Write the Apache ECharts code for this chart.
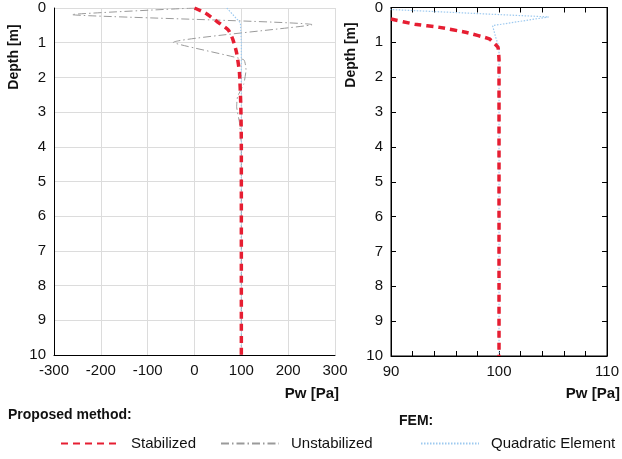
<!DOCTYPE html>
<html>
<head>
<meta charset="utf-8"/>
<title>Pw profile</title>
<script src="https://cdn.jsdelivr.net/npm/echarts@6/dist/echarts.min.js"></script>
<style>
  html, body { margin: 0; padding: 0; background: #fff; }
  #main { width: 622px; height: 459px; }
</style>
</head>
<body>
<div id="main"></div>
<script type="text/javascript">
// left panel (-300..300)
var stabLeftPw    = [0, 23, 48, 72, 82, 90, 96, 99, 100, 100];
var stabLeftDepth = [0, 0.14, 0.39, 0.63, 0.91, 1.3, 1.87, 2.9, 4, 10];
var unstabPw    = [0, -262, 251, -45, 105, 110, 105, 92, 90, 96, 100, 100];
var unstabDepth = [0, 0.19, 0.48, 0.99, 1.49, 1.78, 2.2, 2.55, 2.84, 3.3, 4, 10];
var quadLeftPw    = [69, 98, 100, 100];
var quadLeftDepth = [0, 0.43, 1, 10];
// right panel (90..110)
var stabRightPw    = [90, 92.2, 94.5, 96.9, 99.1, 99.9, 100, 100];
var stabRightDepth = [0.33, 0.48, 0.57, 0.71, 0.9, 1.14, 1.5, 10];
var quadRightPw    = [86, 104.6, 99.4, 99.7, 100, 100];
var quadRightDepth = [0, 0.27, 0.52, 0.86, 1.14, 10];

function pairs(xs, ys) {
  var out = [];
  for (var i = 0; i < xs.length; i++) out.push([xs[i], ys[i]]);
  return out;
}

var FONT = 'Liberation Sans, Arial, sans-serif';
var RED = '#e61e32', GRAY = '#9a9a9a', BLUE = '#9dc9ef';

var redStyle  = { color: RED, width: 3.5, type: [7, 5] };
var grayStyle = { color: GRAY, width: 1, type: [8, 3, 1.5, 3] };
var blueStyle = { color: BLUE, width: 1.2, type: [1.5, 1.5] };

// one legend box per entry so each can sit where the original has it
function legendAt(name, left) {
  return {
    data: [name], left: left, top: 436, padding: 0,
    itemWidth: 58, itemHeight: 14,
    itemStyle: { opacity: 0 },
    textStyle: { fontSize: 15, color: '#111', fontFamily: FONT, padding: [0, 0, 0, 7] }
  };
}

var myChart = echarts.init(document.getElementById('main'));

var option = {
  animation: false,
  textStyle: { fontFamily: FONT },
  grid: [
    { left: 54, right: 287, top: 8, bottom: 104 },
    { left: 391, right: 10, top: 7, bottom: 103, show: true, borderColor: '#000', borderWidth: 1 }
  ],
  xAxis: [
    { gridIndex: 0, type: 'value', min: -300, max: 300, interval: 100,
      axisLine: { show: true, onZero: false, lineStyle: { color: '#000' } },
      axisTick: { show: false },
      splitLine: { show: true, lineStyle: { color: '#dcdcdc' } },
      axisLabel: { margin: 8, fontSize: 15, color: '#111', fontFamily: FONT } },
    { gridIndex: 1, type: 'value', min: 90, max: 110, interval: 10,
      axisLine: { show: true, onZero: false, lineStyle: { color: '#000' } },
      axisTick: { show: true, inside: true, length: 5, lineStyle: { color: '#000' } },
      minorTick: { show: true, splitNumber: 5, length: 5, lineStyle: { color: '#000' } },
      splitLine: { show: false },
      axisLabel: { margin: 8, fontSize: 15, color: '#111', fontFamily: FONT } },
    { gridIndex: 1, type: 'value', min: 90, max: 110, interval: 10, position: 'top',
      axisLine: { show: true, onZero: false, lineStyle: { color: '#000' } },
      axisTick: { show: true, inside: true, length: 5, lineStyle: { color: '#000' } },
      minorTick: { show: true, splitNumber: 5, length: 5, lineStyle: { color: '#000' } },
      splitLine: { show: false },
      axisLabel: { show: false } }
  ],
  yAxis: [
    { gridIndex: 0, type: 'value', inverse: true, min: 0, max: 10, interval: 1,
      axisLine: { show: true, onZero: false, lineStyle: { color: '#000' } },
      axisTick: { show: false },
      splitLine: { show: true, lineStyle: { color: '#dcdcdc' } },
      axisLabel: { margin: 8, fontSize: 15, color: '#111', fontFamily: FONT } },
    { gridIndex: 1, type: 'value', inverse: true, min: 0, max: 10, interval: 1,
      axisLine: { show: true, onZero: false, lineStyle: { color: '#000' } },
      axisTick: { show: true, inside: true, length: 5, lineStyle: { color: '#000' } },
      splitLine: { show: false },
      axisLabel: { margin: 8, fontSize: 15, color: '#111', fontFamily: FONT } },
    { gridIndex: 1, type: 'value', inverse: true, min: 0, max: 10, interval: 1, position: 'right',
      axisLine: { show: true, onZero: false, lineStyle: { color: '#000' } },
      axisTick: { show: true, inside: true, length: 5, lineStyle: { color: '#000' } },
      splitLine: { show: false },
      axisLabel: { show: false } }
  ],
  legend: [
    legendAt('Stabilized', 60),
    legendAt('Unstabilized', 220),
    legendAt('Quadratic Element', 420)
  ],
  graphic: [
    { type: 'text', left: 8, top: 408, style: { text: 'Proposed method:', font: 'bold 14px ' + FONT, fill: '#111' } },
    { type: 'text', left: 399, top: 414, style: { text: 'FEM:', font: 'bold 14px ' + FONT, fill: '#111' } },
    { type: 'text', x: 339, y: 394, style: { text: 'Pw [Pa]', font: 'bold 15px ' + FONT, fill: '#111', align: 'right', verticalAlign: 'middle' } },
    { type: 'text', x: 620, y: 394, style: { text: 'Pw [Pa]', font: 'bold 15px ' + FONT, fill: '#111', align: 'right', verticalAlign: 'middle' } },
    { type: 'text', x: 14, y: 57, rotation: Math.PI / 2, style: { text: 'Depth [m]', font: 'bold 14px ' + FONT, fill: '#111', align: 'center', verticalAlign: 'middle' } },
    { type: 'text', x: 351, y: 55, rotation: Math.PI / 2, style: { text: 'Depth [m]', font: 'bold 14px ' + FONT, fill: '#111', align: 'center', verticalAlign: 'middle' } }
  ],
  series: [
    { name: 'Unstabilized', type: 'line', xAxisIndex: 0, yAxisIndex: 0, symbol: 'none', smooth: 0.15,
      lineStyle: grayStyle, itemStyle: { color: GRAY }, data: pairs(unstabPw, unstabDepth), z: 2 },
    { name: 'Quadratic Element', type: 'line', xAxisIndex: 0, yAxisIndex: 0, symbol: 'none',
      lineStyle: blueStyle, itemStyle: { color: BLUE }, data: pairs(quadLeftPw, quadLeftDepth), z: 3 },
    { name: 'Stabilized', type: 'line', xAxisIndex: 0, yAxisIndex: 0, symbol: 'none', smooth: 0.2,
      lineStyle: redStyle, itemStyle: { color: RED }, data: pairs(stabLeftPw, stabLeftDepth), z: 4 },
    { name: 'Quadratic Element', type: 'line', xAxisIndex: 1, yAxisIndex: 1, symbol: 'none', clip: true,
      lineStyle: blueStyle, itemStyle: { color: BLUE }, data: pairs(quadRightPw, quadRightDepth), z: 3 },
    { name: 'Stabilized', type: 'line', xAxisIndex: 1, yAxisIndex: 1, symbol: 'none', clip: true, smooth: 0.1,
      lineStyle: redStyle, itemStyle: { color: RED }, data: pairs(stabRightPw, stabRightDepth), z: 4 }
  ]
};

myChart.setOption(option);
</script>
</body>
</html>
